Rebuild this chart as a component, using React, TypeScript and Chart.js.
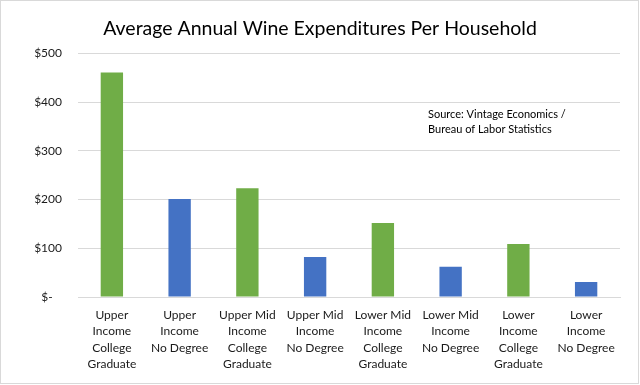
import React, { useEffect, useRef } from "react";
import { Chart, registerables } from "chart.js";

Chart.register(...registerables);

const categories: string[][] = [
  ["Upper", "Income", "College", "Graduate"],
  ["Upper", "Income", "No Degree"],
  ["Upper Mid", "Income", "College", "Graduate"],
  ["Upper Mid", "Income", "No Degree"],
  ["Lower Mid", "Income", "College", "Graduate"],
  ["Lower Mid", "Income", "No Degree"],
  ["Lower", "Income", "College", "Graduate"],
  ["Lower", "Income", "No Degree"],
];
const values: number[] = [461, 201, 223, 82, 152, 62, 109, 31];
const barColors: string[] = ["#70ad47", "#4472c4", "#70ad47", "#4472c4", "#70ad47", "#4472c4", "#70ad47", "#4472c4"];
const yTicks: number[] = [0, 100, 200, 300, 400, 500];
const titleText = "Average Annual Wine Expenditures Per Household";
const sourceLines: string[] = ["Source: Vintage Economics /", "Bureau of Labor Statistics"];

const FONT = "Lato, 'Open Sans', sans-serif";

const framePlugin = {
  id: "frame",
  afterDraw(chart: any) {
    const ctx = chart.ctx;
    ctx.save();
    ctx.strokeStyle = "#d9d9d9";
    ctx.lineWidth = 1;
    ctx.strokeRect(0.5, 0.5, chart.width - 2, chart.height - 2);
    ctx.fillStyle = "#000000";
    ctx.font = `11px ${FONT}`;
    ctx.textAlign = "left";
    ctx.textBaseline = "middle";
    sourceLines.forEach((l, i) => ctx.fillText(l, 428, 114 + i * 15));
    ctx.restore();
  },
};

export default function App() {
  const ref = useRef<HTMLCanvasElement | null>(null);
  useEffect(() => {
    document.body.style.margin = "0";
    const chart = new Chart(ref.current!, {
      type: "bar",
      data: {
        labels: categories,
        datasets: [
          {
            data: values,
            backgroundColor: barColors,
            barPercentage: 0.33,
            categoryPercentage: 1,
          },
        ],
      },
      options: {
        animation: false,
        responsive: false,
        layout: { padding: { left: 20, right: 20, top: 0, bottom: 0 } },
        plugins: {
          legend: { display: false },
          tooltip: { enabled: false },
          title: {
            display: true,
            text: titleText,
            color: "#000000",
            font: { family: FONT, size: 19.5, weight: "normal", lineHeight: 1.2 },
            padding: { top: 17, bottom: 13 },
          },
        },
        scales: {
          x: {
            grid: { display: false, drawTicks: false },
            border: { display: true, color: "#d9d9d9" },
            ticks: {
              color: "#1a1a1a",
              font: { family: FONT, size: 12, lineHeight: 1.36 },
              padding: 10,
              maxRotation: 0,
              autoSkip: false,
            },
            afterFit: (s: any) => {
              s.height = 88;
            },
          },
          y: {
            min: 0,
            max: 500,
            grid: { color: "#d9d9d9", drawTicks: false },
            border: { display: false },
            afterBuildTicks: (s: any) => {
              s.ticks = yTicks.map((v) => ({ value: v }));
            },
            ticks: {
              color: "#1a1a1a",
              font: { family: FONT, size: 12 },
              padding: 16,
              callback: (v: any) => (Number(v) === 0 ? "$-   " : "$" + v),
            },
            afterFit: (s: any) => {
              s.width = 58;
            },
          },
        },
      },
      plugins: [framePlugin],
    });
    return () => chart.destroy();
  }, []);
  return <canvas ref={ref} width={640} height={385} style={{ display: "block" }} />;
}
